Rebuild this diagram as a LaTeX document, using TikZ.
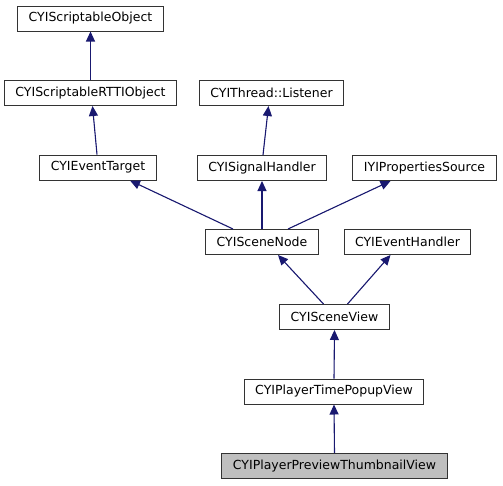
\documentclass[tikz,border=0pt]{standalone}
\usepackage{fontspec}
\setmainfont{DejaVu Sans}
\usepackage{tikz}
\usetikzlibrary{arrows.meta, positioning}
\definecolor{edgeblue}{RGB}{25,25,112}

\begin{document}
\begin{tikzpicture}[
    x=1pt, y=-1pt,
    cls/.style={draw=black!80, line width=1pt, fill=white, minimum height=25pt, inner xsep=11pt, inner ysep=0pt, font=\fontsize{12.5}{14}\selectfont},
    current/.style={cls, fill=black!25},
    edge/.style={{Triangle[length=10pt, width=9pt]}-, draw=edgeblue, fill=edgeblue, line width=1.1pt}
]
\useasboundingbox (0,0) rectangle (503,485);

% Row 1 and 2: scriptable bases
\node[cls] (scrobj) at (90.5,18.5) {CYIScriptableObject};
\node[cls] (rttiobj) at (90.5,93) {CYIScriptableRTTIObject};
\node[cls] (listener) at (271.5,93) {CYIThread::Listener};

% Row 3
\node[cls] (evtarget) at (98,167.5) {CYIEventTarget};
\node[cls] (sighandler) at (262,168) {CYISignalHandler};
\node[cls] (propsrc) at (424.5,168) {IYIPropertiesSource};

% Row 4
\node[cls] (scenenode) at (262,242) {CYISceneNode};
\node[cls] (evhandler) at (407.5,242) {CYIEventHandler};

% Row 5 to 7: view chain
\node[cls] (sceneview) at (334.5,317) {CYISceneView};
\node[cls] (popup) at (334,391.5) {CYIPlayerTimePopupView};
\node[current] (thumb) at (334.5,466) {CYIPlayerPreviewThumbnailView};

% Inheritance edges (arrow at the base class)
\draw[edge] (scrobj.south) -- (rttiobj.north);
\draw[edge] ([xshift=2pt]rttiobj.south) -- ([xshift=-1pt]evtarget.north);
\draw[edge] ([xshift=-3pt]listener.south) -- ([xshift=1pt]sighandler.north);
\draw[edge] ([xshift=32pt]evtarget.south) -- ([xshift=-29pt]scenenode.north);
\draw[edge] (sighandler.south) -- (scenenode.north);
\draw[edge] ([xshift=-34pt]propsrc.south) -- ([xshift=26pt]scenenode.north);
\draw[edge] ([xshift=16pt]scenenode.south) -- ([xshift=-11pt]sceneview.north);
\draw[edge] ([xshift=-17pt]evhandler.south) -- ([xshift=13pt]sceneview.north);
\draw[edge] (sceneview.south) -- (popup.north);
\draw[edge] (popup.south) -- (thumb.north);

\end{tikzpicture}
\end{document}
